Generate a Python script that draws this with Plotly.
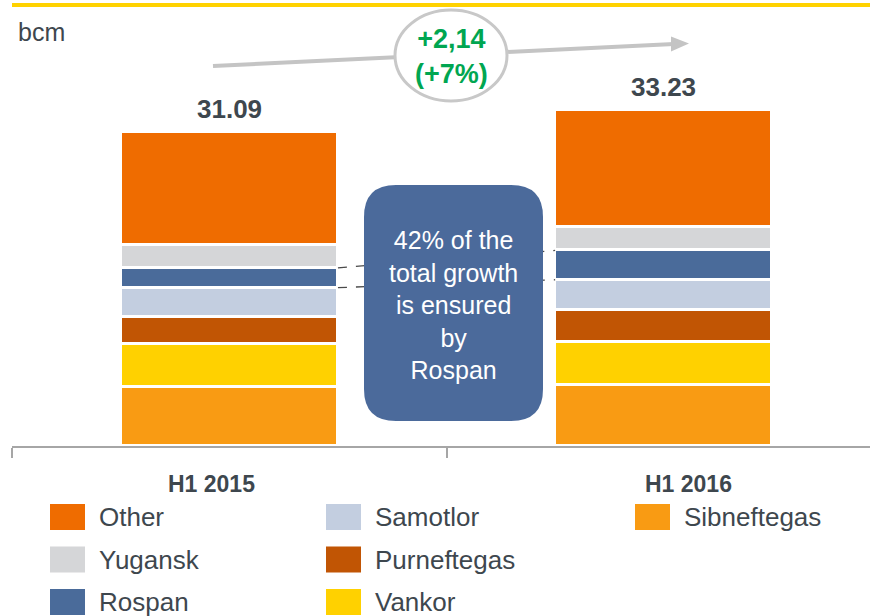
import plotly.graph_objects as go

# ---------------- data ----------------
categories = ["H1 2015", "H1 2016"]
series_names = ["Sibneftegas", "Vankor", "Purneftegas", "Samotlor", "Rospan", "Yugansk", "Other"]
h1_2015 = [5.79, 4.35, 2.64, 2.89, 1.96, 2.30, 11.16]
h1_2016 = [6.01, 4.31, 3.15, 2.98, 2.90, 2.31, 11.57]
series_colors = ["#F99B13", "#FFD100", "#C15504", "#C3CEE0", "#4A6B9A", "#D5D6D8", "#EF6C00"]
growth_text = ["+2,14", "(+7%)"]
callout_text = ["42% of the", "total growth", "is ensured", "by", "Rospan"]
unit_label = "bcm"

FONT = "Liberation Sans, Arial, sans-serif"
TXT = "#3E474E"

W, H = 870, 616
L, R, T, B = 12, 0, 0, 170
PW, PH = W - L - R, H - T - B


def px(x):
    return (x - L) / PW


def py(y):
    return (H - B - y) / PH


xpos = [0, 1]
fig = go.Figure()
for i, name in enumerate(series_names):
    fig.add_trace(go.Bar(
        x=xpos, y=[h1_2015[i], h1_2016[i]], name=name,
        marker=dict(color=series_colors[i], line=dict(color="white", width=3)),
        width=0.5, showlegend=False, hoverinfo="skip",
    ))

totals = [sum(h1_2015), sum(h1_2016)]

shapes = []
annotations = []

# top yellow rule
shapes.append(dict(type="line", xref="paper", yref="paper", x0=px(12), x1=px(870),
                   y0=py(5), y1=py(5), line=dict(color="#FFD200", width=4)))

# growth arrow
shapes.append(dict(type="line", xref="paper", yref="paper", x0=px(213), y0=py(66),
                   x1=px(674), y1=py(44), line=dict(color="#C4C4C4", width=4)))
shapes.append(dict(type="path", xref="paper", yref="paper",
                   path=f"M{px(671)},{py(36.5)} L{px(689)},{py(43.5)} L{px(671)},{py(51.5)} Z",
                   fillcolor="#C4C4C4", line=dict(width=0)))
# ellipse
shapes.append(dict(type="circle", xref="paper", yref="paper", x0=px(395), x1=px(507),
                   y0=py(101), y1=py(10), fillcolor="white",
                   line=dict(color="#C8C8C8", width=3)))

# dashed connectors between Rospan segments
idx = series_names.index("Rospan")
b15 = sum(h1_2015[:idx]); t15 = b15 + h1_2015[idx]
b16 = sum(h1_2016[:idx]); t16 = b16 + h1_2016[idx]
for y0, y1 in [(b15, b16), (t15, t16)]:
    shapes.append(dict(type="line", xref="x", yref="y", x0=0.25, x1=0.75, y0=y0, y1=y1,
                       line=dict(color="#4A4A4A", width=1.3, dash="dash"), layer="above"))

# rounded callout box
x0, x1, y0, y1, r = 364, 543, 185, 421, 32
path = (f"M{px(x0 + r)},{py(y0)} L{px(x1 - r)},{py(y0)} Q{px(x1)},{py(y0)} {px(x1)},{py(y0 + r)} "
        f"L{px(x1)},{py(y1 - r)} Q{px(x1)},{py(y1)} {px(x1 - r)},{py(y1)} "
        f"L{px(x0 + r)},{py(y1)} Q{px(x0)},{py(y1)} {px(x0)},{py(y1 - r)} "
        f"L{px(x0)},{py(y0 + r)} Q{px(x0)},{py(y0)} {px(x0 + r)},{py(y0)} Z")
shapes.append(dict(type="path", xref="paper", yref="paper", path=path,
                   fillcolor="#4B6A9B", line=dict(width=0), layer="above"))

annotations.append(dict(xref="paper", yref="paper", x=px(453.5), y=py(305), text="<br>".join(callout_text),
                        showarrow=False, font=dict(family=FONT, size=25, color="white"),
                        xanchor="center", yanchor="middle", align="center"))

# growth text
annotations.append(dict(xref="paper", yref="paper", x=px(451), y=py(56),
                        text="<b>" + "<br>".join(growth_text) + "</b>",
                        showarrow=False, font=dict(family=FONT, size=27, color="#00A651"),
                        xanchor="center", yanchor="middle", align="center"))

# unit label
annotations.append(dict(xref="paper", yref="paper", x=px(16), y=py(32), text=unit_label,
                        showarrow=False, font=dict(family=FONT, size=25, color=TXT),
                        xanchor="left", yanchor="middle"))

# totals
for xi, tot in zip(xpos, totals):
    annotations.append(dict(xref="x", yref="y", x=xi, y=tot, text=f"<b>{tot:.2f}</b>",
                            showarrow=False, yshift=23, xanchor="center", yanchor="middle",
                            font=dict(family=FONT, size=26, color=TXT)))

# category labels (offset from the bar centres as in the reference)
for xi, cat, shift in zip(xpos, categories, [-18, 25]):
    annotations.append(dict(xref="x", yref="paper", x=xi, y=py(484), text=f"<b>{cat}</b>",
                            showarrow=False, xshift=shift, xanchor="center", yanchor="middle",
                            font=dict(family=FONT, size=23, color=TXT)))

# custom legend (column-major, top of stack first)
col_x = [50, 326, 635]
row_y = [504, 546.5, 589]
for i, name in enumerate(reversed(series_names)):
    c, rr = i // 3, i % 3
    color = series_colors[series_names.index(name)]
    sx, sy = col_x[c], row_y[rr]
    shapes.append(dict(type="rect", xref="paper", yref="paper", x0=px(sx), x1=px(sx + 35),
                       y0=py(sy + 26), y1=py(sy), fillcolor=color, line=dict(width=0)))
    annotations.append(dict(xref="paper", yref="paper", x=px(sx + 47), y=py(sy + 13), text=name,
                            showarrow=False, xanchor="left", yanchor="middle",
                            font=dict(family=FONT, size=26, color=TXT)))

fig.update_layout(
    width=W, height=H,
    margin=dict(l=L, r=R, t=T, b=B),
    paper_bgcolor="white", plot_bgcolor="white",
    barmode="stack", bargap=0,
    shapes=shapes, annotations=annotations,
    xaxis=dict(range=[-0.5005, 1.475], tickvals=xpos, showticklabels=False,
               ticks="", showgrid=False, zeroline=False,
               showline=True, linecolor="#A6A6A6", linewidth=2,
               minor=dict(tickvals=[-0.5, 0.5], ticks="outside", ticklen=10,
                          tickcolor="#A6A6A6", tickwidth=1.5, showgrid=False)),
    yaxis=dict(range=[0, PH / 10.106], visible=False, showgrid=False, zeroline=False),
    showlegend=False,
)

fig.write_html(
    "out.html",
    config={"displayModeBar": False},
    post_script="document.body.style.margin='0';document.body.style.padding='0';document.body.style.overflow='hidden';",
)
